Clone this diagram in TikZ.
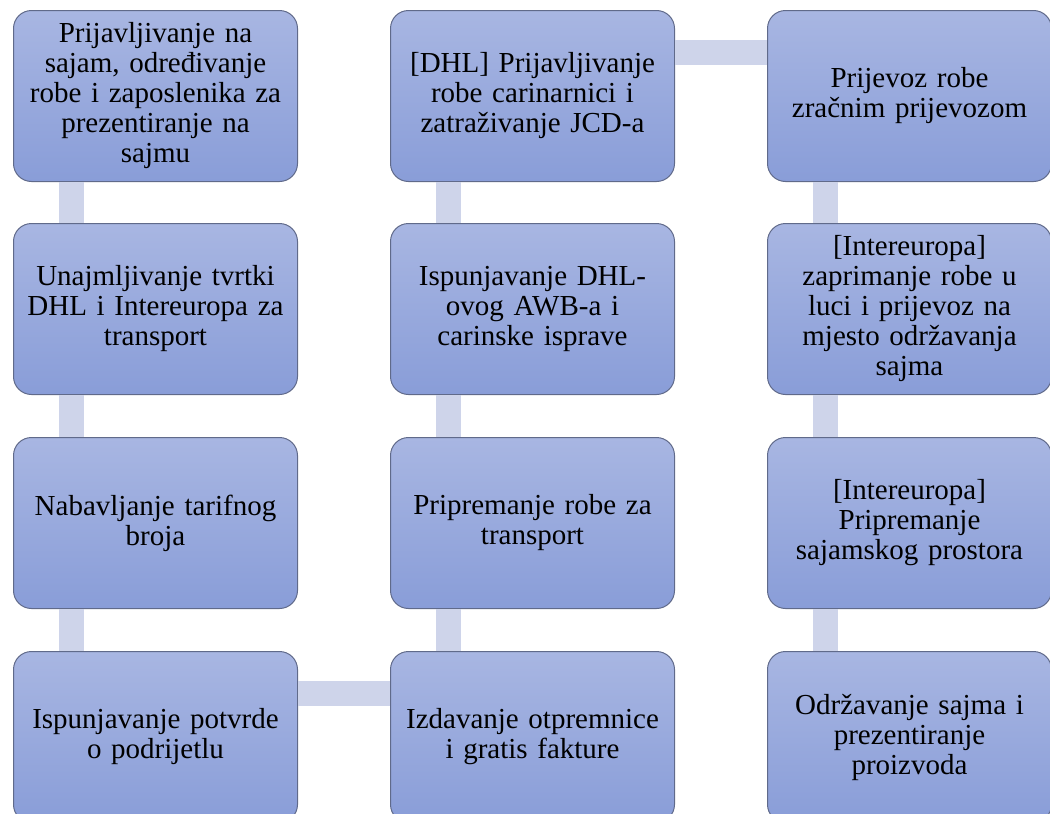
\documentclass[tikz,border=0pt]{standalone}
\usepackage{fontspec}
\setmainfont{Liberation Serif}
\definecolor{boxtop}{RGB}{168,182,226}
\definecolor{boxbot}{RGB}{137,157,216}
\definecolor{boxline}{RGB}{96,106,138}
\definecolor{connc}{RGB}{206,212,234}
\tikzset{
  stepbox/.style={draw=boxline, line width=1pt, rounded corners=18pt,
    top color=boxtop, bottom color=boxbot, anchor=north west,
    minimum width=284pt, minimum height=171pt, text width=280pt,
    inner sep=0pt, align=center,
    font=\fontsize{29pt}{30pt}\selectfont},
  conn/.style={draw=connc, line width=25pt}
}
\begin{document}
\begin{tikzpicture}[x=1pt,y=-1pt]
\useasboundingbox (0,0) rectangle (1050,814);
\clip (0,0) rectangle (1050,814);
\fill[white] (0,0) rectangle (1050,814);
% nodes
\node[stepbox] (a1) at (13,10)  {Prijavljivanje na\\sajam, određivanje\\robe i zaposlenika za\\prezentiranje na\\sajmu};
\node[stepbox] (a2) at (13,223) {Unajmljivanje tvrtki\\DHL i Intereuropa za\\transport};
\node[stepbox] (a3) at (13,437) {Nabavljanje tarifnog\\broja};
\node[stepbox] (a4) at (13,651) {Ispunjavanje potvrde\\o podrijetlu};
\node[stepbox] (b1) at (390,10)  {[DHL] Prijavljivanje\\robe carinarnici i\\zatraživanje JCD-a};
\node[stepbox] (b2) at (390,223) {Ispunjavanje DHL-\\ovog AWB-a i\\carinske isprave};
\node[stepbox] (b3) at (390,437) {Pripremanje robe za\\transport};
\node[stepbox] (b4) at (390,651) {Izdavanje otpremnice\\i gratis fakture};
\node[stepbox] (c1) at (767,10)  {Prijevoz robe\\zračnim prijevozom};
\node[stepbox] (c2) at (767,223) {[Intereuropa]\\zaprimanje robe u\\luci i prijevoz na\\mjesto održavanja\\sajma};
\node[stepbox] (c3) at (767,437) {[Intereuropa]\\Pripremanje\\sajamskog prostora};
\node[stepbox] (c4) at (767,651) {Održavanje sajma i\\prezentiranje\\proizvoda};
% connectors
\path[conn] ([xshift=58pt]a1.south west) -- ([xshift=58pt]a2.north west);
\path[conn] ([xshift=58pt]a2.south west) -- ([xshift=58pt]a3.north west);
\path[conn] ([xshift=58pt]a3.south west) -- ([xshift=58pt]a4.north west);
\path[conn] ([yshift=-42pt]a4.north east) -- ([yshift=-42pt]b4.north west);
\path[conn] ([xshift=58pt]b4.north west) -- ([xshift=58pt]b3.south west);
\path[conn] ([xshift=58pt]b3.north west) -- ([xshift=58pt]b2.south west);
\path[conn] ([xshift=58pt]b2.north west) -- ([xshift=58pt]b1.south west);
\path[conn] ([yshift=-42pt]b1.north east) -- ([yshift=-42pt]c1.north west);
\path[conn] ([xshift=58pt]c1.south west) -- ([xshift=58pt]c2.north west);
\path[conn] ([xshift=58pt]c2.south west) -- ([xshift=58pt]c3.north west);
\path[conn] ([xshift=58pt]c3.south west) -- ([xshift=58pt]c4.north west);
\end{tikzpicture}
\end{document}
